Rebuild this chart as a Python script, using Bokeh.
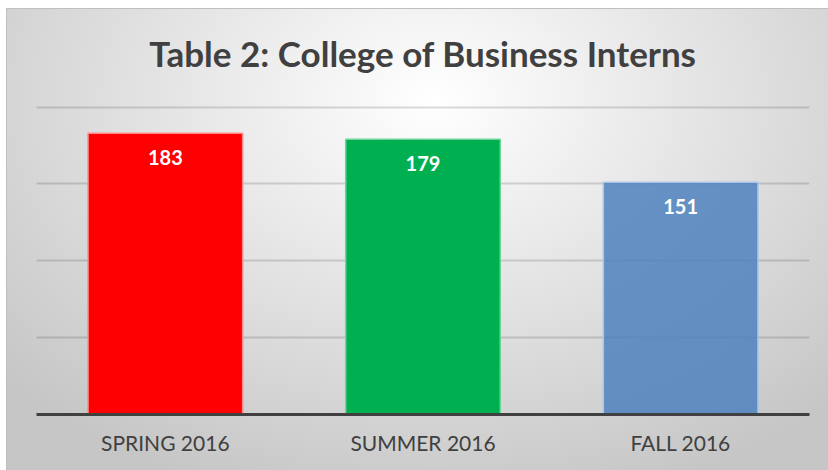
from bokeh.plotting import figure
from bokeh.models import ColumnDataSource, FactorRange, Range1d, FixedTicker
from bokeh.core.properties import value
from bokeh.embed import file_html
from bokeh.resources import INLINE

# ---- data ----
categories = ["SPRING 2016", "SUMMER 2016", "FALL 2016"]
interns = [183, 179, 151]
y_ticks = [0, 50, 100, 150, 200]

# ---- styles ----
fill_colors = ["#FF0000", "#00B050", "#4F81BD"]
fill_alphas = [1.0, 1.0, 0.85]
edge_colors = ["#FF8A8A", "#6FD39A", "#A9C6E8"]
text_color = "#404040"
font = "Lato"

src = ColumnDataSource(dict(
    cat=categories, val=interns, label=[str(v) for v in interns],
    fill=fill_colors, alpha=fill_alphas, edge=edge_colors,
))

p = figure(
    x_range=FactorRange(factors=categories, range_padding=0),
    y_range=Range1d(0, 201),
    width=828, height=470,
    output_backend="svg", toolbar_location=None,
    min_border_left=36, min_border_right=19,
    min_border_top=105, min_border_bottom=56,
    title="Table 2: College of Business Interns",
)

bg = ("linear-gradient(#bfbfbf,#bfbfbf) 6px 8px / 100% 1px no-repeat, "
      "linear-gradient(#bfbfbf,#bfbfbf) 6px 8px / 1px 100% no-repeat, "
      "radial-gradient(ellipse 70% 90% at 52% 20%, #ffffff 0%, #c6c6c6 100%) "
      "6px 8px / calc(100% - 6px) calc(100% - 8px) no-repeat, #ffffff")
p.styles = {"background": bg}
p.border_fill_color = None
p.background_fill_color = None
p.outline_line_color = None

p.title.align = "center"
p.title.vertical_align = "top"
p.title.text_font = font
p.title.text_font_style = "bold"
p.title.text_font_size = "35px"
p.title.text_color = text_color
p.title.standoff = 60

p.vbar(x="cat", top="val", width=0.6, source=src,
       fill_color="fill", fill_alpha="alpha", line_color="edge", line_width=1.5)

p.text(x="cat", y="val", text="label", source=src,
       text_color="#ffffff", text_font=value(font), text_font_style="bold",
       text_font_size="20px", text_align="center", text_baseline="top",
       y_offset=17)

p.yaxis.visible = False
p.yaxis.ticker = FixedTicker(ticks=y_ticks)
p.ygrid.ticker = FixedTicker(ticks=y_ticks)
p.ygrid.grid_line_color = "#000000"
p.ygrid.grid_line_alpha = 0.14
p.ygrid.grid_line_width = 2
p.xgrid.visible = False

ax = p.xaxis[0]
ax.axis_line_color = "#404040"
ax.axis_line_width = 3
ax.major_tick_line_color = None
ax.minor_tick_line_color = None
ax.major_label_text_font = font
ax.major_label_text_font_size = "21px"
ax.major_label_text_color = text_color
ax.major_label_standoff = 9

open("out.html", "w").write(file_html(p, INLINE))
